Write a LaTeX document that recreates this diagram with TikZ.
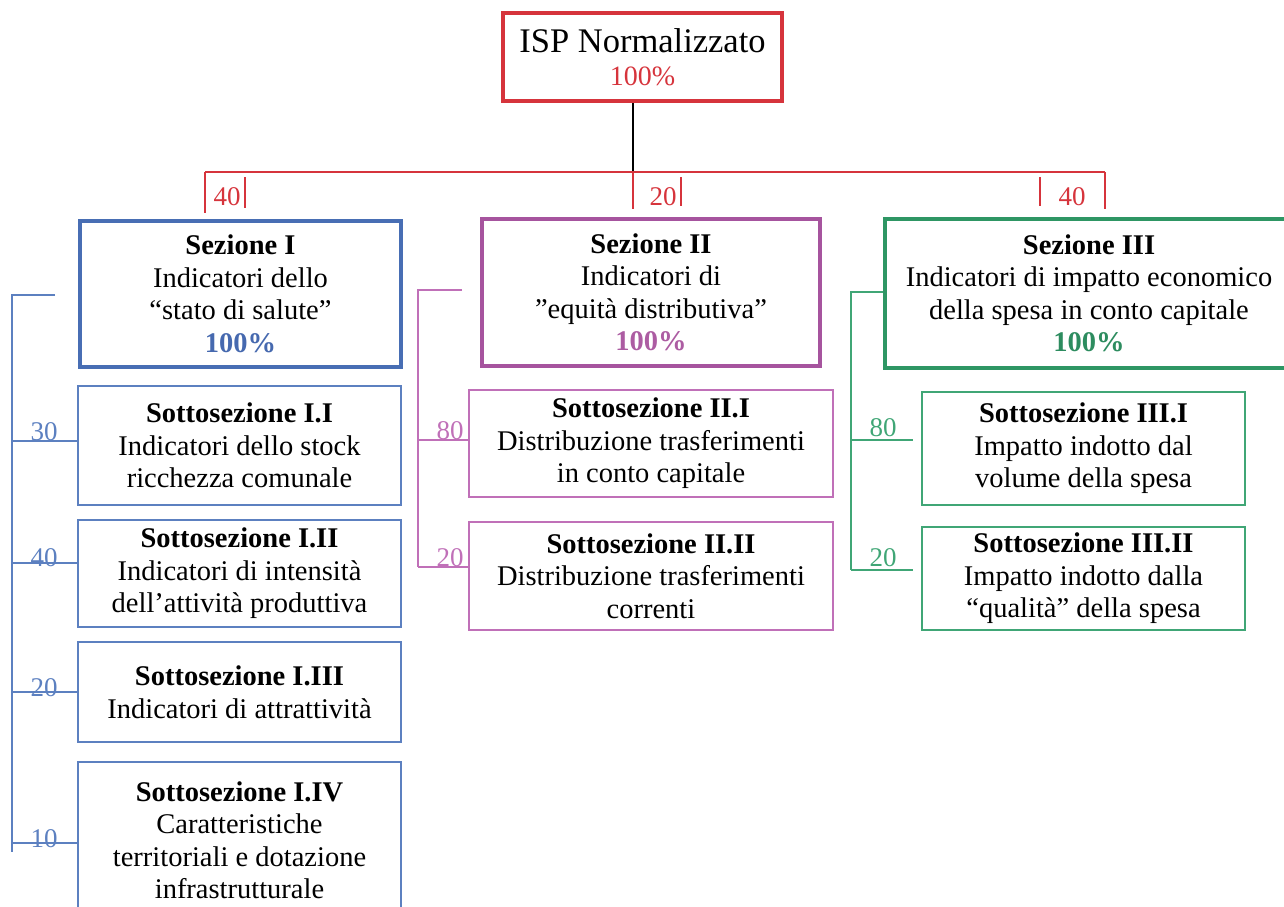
\documentclass[tikz,border=0pt]{standalone}
\usepackage{fontspec}
\setmainfont{Liberation Serif}
\definecolor{redc}{RGB}{214,52,60}
\definecolor{bluek}{RGB}{72,110,180}
\definecolor{bluel}{RGB}{92,128,192}
\definecolor{bluet}{RGB}{70,105,175}
\definecolor{purk}{RGB}{166,84,158}
\definecolor{purl}{RGB}{192,112,184}
\definecolor{purt}{RGB}{172,92,162}
\definecolor{grek}{RGB}{46,150,100}
\definecolor{grel}{RGB}{64,166,118}
\definecolor{gret}{RGB}{45,140,95}
\begin{document}
\begin{tikzpicture}[x=1pt,y=-1pt,
  box/.style={draw, rectangle, inner sep=0pt, align=center, text=black,
    font=\fontsize{28.5}{32.5}\selectfont},
  mainbox/.style={box, line width=4pt},
  subbox/.style={box, line width=1.6pt},
  link/.style={line width=1.6pt},
  weight/.style={anchor=base, inner sep=0pt, font=\fontsize{27}{27}\selectfont}]
\useasboundingbox (0,0) rectangle (1284,906);
\clip (0,0) rectangle (1284,906);

% root
\node[mainbox, draw=redc, minimum width=279pt, minimum height=88pt] (root) at (642.5,57)
  {{\fontsize{34.5}{32}\selectfont ISP Normalizzato}\\{\fontsize{28}{32}\selectfont\color{redc}100\%}};

% sections
\node[mainbox, draw=bluek, minimum width=321pt, minimum height=146pt] (s1) at (240.5,294)
  {\textbf{Sezione I}\\Indicatori dello\\“stato di salute”\\{\color{bluet}\bfseries 100\%}};
\node[mainbox, draw=purk, minimum width=338pt, minimum height=147pt] (s2) at (651,292.5)
  {\textbf{Sezione II}\\Indicatori di\\”equità distributiva”\\{\color{purt}\bfseries 100\%}};
\node[mainbox, draw=grek, minimum width=408pt, minimum height=149pt] (s3) at (1089,293.5)
  {\textbf{Sezione III}\\Indicatori di impatto economico\\della spesa in conto capitale\\{\color{gret}\bfseries 100\%}};

% subsections of section I
\node[subbox, draw=bluel, minimum width=323pt, minimum height=119pt] (s11) at (239.5,445.5)
  {\textbf{Sottosezione I.I}\\Indicatori dello stock\\ricchezza comunale};
\node[subbox, draw=bluel, minimum width=323pt, minimum height=107pt] (s12) at (239.5,573.5)
  {\textbf{Sottosezione I.II}\\Indicatori di intensità\\dell’attività produttiva};
\node[subbox, draw=bluel, minimum width=323pt, minimum height=100pt] (s13) at (239.5,692)
  {\textbf{Sottosezione I.III}\\Indicatori di attrattività};
\node[subbox, draw=bluel, minimum width=323pt, minimum height=156pt] (s14) at (239.5,840)
  {\textbf{Sottosezione I.IV}\\Caratteristiche\\territoriali e dotazione\\infrastrutturale};

% subsections of section II
\node[subbox, draw=purl, minimum width=364pt, minimum height=107pt] (s21) at (651,443.5)
  {\textbf{Sottosezione II.I}\\Distribuzione trasferimenti\\in conto capitale};
\node[subbox, draw=purl, minimum width=364pt, minimum height=108pt] (s22) at (651,576)
  {\textbf{Sottosezione II.II}\\Distribuzione trasferimenti\\correnti};

% subsections of section III
\node[subbox, draw=grel, minimum width=323pt, minimum height=113pt] (s31) at (1083.5,448.5)
  {\textbf{Sottosezione III.I}\\Impatto indotto dal\\volume della spesa};
\node[subbox, draw=grel, minimum width=323pt, minimum height=103pt] (s32) at (1083.5,578.5)
  {\textbf{Sottosezione III.II}\\Impatto indotto dalla\\“qualità” della spesa};

% root to sections
\coordinate (hub) at (633,172);
\draw[line width=1.6pt] (root.south -| hub) -- (hub);
\draw[link, redc] (205,172) -- (1105,172);
\draw[link, redc] (205,172) -- (205,213);
\draw[link, redc] (245,177) -- (245,208);
\draw[link, redc] (hub) -- (633,209);
\draw[link, redc] (681,177) -- (681,206);
\draw[link, redc] (1040,177) -- (1040,206);
\draw[link, redc] (1105,172) -- (1105,209);
\node[weight, text=redc] (w1) at (227,205) {40};
\node[weight, text=redc] (w2) at (663,205) {20};
\node[weight, text=redc] (w3) at (1072,205) {40};

% section I bracket
\draw[link, bluel] (55,295) -- (12,295) -- (12,852);
\draw[link, bluel] (12,441) -- (s11.west |- 0,441);
\draw[link, bluel] (12,563) -- (s12.west |- 0,563);
\draw[link, bluel] (12,692) -- (s13.west |- 0,692);
\draw[link, bluel] (12,843) -- (s14.west |- 0,843);
\node[weight, text=bluel] (b1) at (44,440) {30};
\node[weight, text=bluel] (b2) at (44,566) {40};
\node[weight, text=bluel] (b3) at (44,696) {20};
\node[weight, text=bluel] (b4) at (44,847) {10};

% section II bracket
\draw[link, purl] (462,290) -- (418,290) -- (418,567);
\draw[link, purl] (418,440) -- (s21.west |- 0,440);
\draw[link, purl] (418,567) -- (s22.west |- 0,567);
\node[weight, text=purl] (p1) at (450,439) {80};
\node[weight, text=purl] (p2) at (450,566) {20};

% section III bracket
\draw[link, grel] (s3.west |- 0,292) -- (851,292) -- (851,570);
\draw[link, grel] (851,440) -- (913,440);
\draw[link, grel] (851,570) -- (913,570);
\node[weight, text=grel] (g1) at (883,436) {80};
\node[weight, text=grel] (g2) at (883,566) {20};
\end{tikzpicture}
\end{document}
